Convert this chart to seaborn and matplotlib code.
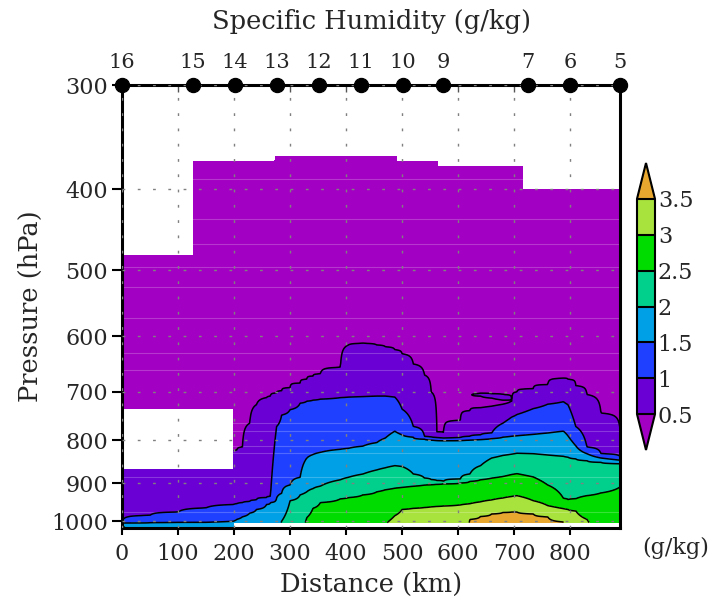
import numpy as np
import matplotlib
matplotlib.use("Agg")
import matplotlib.pyplot as plt
import seaborn as sns
from matplotlib.colors import ListedColormap, BoundaryNorm
from matplotlib.ticker import FixedLocator, NullLocator

# ---------------- data ----------------
levels = [0.5, 1.0, 1.5, 2.0, 2.5, 3.0, 3.5]
level_labels = ["0.5", "1", "1.5", "2", "2.5", "3", "3.5"]

stations = ["16", "15", "14", "13", "12", "11", "10", "9", "7", "6", "5"]
station_km = [0, 127, 202, 277, 352, 427, 502, 573, 725, 800, 889]

x_ticks = [0, 100, 200, 300, 400, 500, 600, 700, 800]
p_ticks = [300, 400, 500, 600, 700, 800, 900, 1000]

nan = np.nan
# sampled distances (km) and pressure (hPa) of each humidity isoline
dist = [0, 50, 100, 150, 199, 205, 215, 228, 240, 258, 265, 276, 285, 300, 318,
        330, 341, 354, 390, 404, 430, 455, 470, 487, 500, 520, 540, 552, 562, 574,
        604, 621, 640, 660, 680, 696, 705, 734, 760, 788, 796, 810, 830, 855, 889]
p05 = [800, 800, 800, 800, 825, 822, 815, 763, 725, 711, 708, 702, 698, 692, 683,
       676, 670, 666, 654, 615, 612, 615, 618, 623, 630, 648, 668, 700, 782, 784,
       757, 737, 731, 728, 724, 718, 700, 694, 686, 674, 676, 688, 705, 742, 775]
p10 = [1000, 984, 975, 964, 955, 953, 950, 947, 943, 937, 934, 770, 746, 735, 722,
       718, 716, 714, 711, 710, 709, 708, 708, 710, 734, 770, 792, 793, 794, 795,
       794, 791, 788, 784, 763, 750, 745, 733, 724, 719, 725, 770, 815, 830, 836]
p15 = [1005, 1004, 1003, 1003, 1000, 995, 988, 978, 968, 955, 950, 938, 926, 905, 886,
       840, 832, 827, 820, 818, 813, 805, 795, 780, 788, 793, 797, 799, 800, 801,
       800, 799, 798, 796, 793, 791, 790, 787, 784, 780, 790, 812, 830, 840, 845]
p20 = [1012, nan, nan, nan, nan, nan, nan, nan, nan, nan, nan, nan, 1000, 945, 930,
       922, 914, 908, 892, 886, 878, 868, 863, 858, 860, 878, 888, 892, 894, 896,
       890, 878, 858, 840, 834, 831, 829, 830, 833, 836, 838, 842, 846, 850, 853]
p25 = [nan, nan, nan, nan, nan, nan, nan, nan, nan, nan, nan, nan, nan, nan, nan,
       990, 965, 950, 940, 937, 930, 922, 917, 913, 911, 908, 905, 904, 903, 902,
       900, 896, 892, 888, 884, 879, 877, 885, 905, 939, 942, 940, 932, 925, 910]
p30 = [nan, nan, nan, nan, nan, nan, nan, nan, nan, nan, nan, nan, nan, nan, nan,
       nan, nan, nan, nan, nan, nan, nan, 1008, 985, 968, 965, 963, 961, 960, 959,
       956, 953, 948, 943, 938, 934, 932, 945, 958, 966, 968, 972, 995, nan, nan]
p35 = [nan, nan, nan, nan, nan, nan, nan, nan, nan, nan, nan, nan, nan, nan, nan,
       nan, nan, nan, nan, nan, nan, nan, nan, nan, nan, nan, nan, nan, nan, nan,
       nan, 995, 987, 980, 976, 975, 975, 980, 988, 1002, nan, nan, nan, nan, nan]

# thin 0.5-1 tongue above a purple pocket near 700 hPa
tongue_km = [640, 660, 680]
tongue_top = [703, 704, 705]
tongue_bot = [708, 712, 716]

# missing-data areas (white)
top_edges = [0, 126, 273, 490, 564, 715, 889]
top_p = [480, 370, 365, 370, 375, 400]
hole_km = [0, 199]
hole_p = [734, 867]
bottom_start_km = 199
bottom_p = 1005

seam_p = [389, 434, 465, 496, 524, 571, 629, 659, 762, 780, 812, 829, 886, 975]

colors = ["#6a00d4", "#2040ff", "#00a0e6", "#00d08c", "#00dc00", "#a8e23c"]
under_color = "#a200c2"
over_color = "#e8a830"

# ---------------- build field ----------------
xf = np.linspace(0, 889, 700)
pf = np.geomspace(295, 1025, 900)
lpf = np.log(pf)
iso = [p05, p10, p15, p20, p25, p30, p35]
ncol = len(dist)
Qcol = np.zeros((ncol, len(pf)))
for i in range(ncol):
    nodes_p = [300.0]
    nodes_q = [0.1]
    if dist[i] in tongue_km:
        k = tongue_km.index(dist[i])
        t, b = tongue_top[k], tongue_bot[k]
        nodes_p += [t, (t + b) / 2, b, (b + p05[i]) / 2]
        nodes_q += [0.5, 0.6, 0.5, 0.4]
    for k, arr in enumerate(iso):
        v = arr[i]
        if np.isnan(v):
            v = 1040 + 10 * k
        nodes_p.append(v)
        nodes_q.append(levels[k])
    nodes_p.append(1200.0)
    nodes_q.append(4.0)
    Qcol[i] = np.interp(lpf, np.log(nodes_p), nodes_q)

Q = np.zeros((len(pf), len(xf)))
for j in range(len(pf)):
    Q[j] = np.interp(xf, dist, Qcol[:, j])

XX, PP = np.meshgrid(xf, pf)
mask = np.zeros_like(Q, dtype=bool)
for k in range(len(top_p)):
    sel = (XX >= top_edges[k]) & (XX <= top_edges[k + 1]) & (PP < top_p[k])
    mask |= sel
mask |= (XX <= hole_km[1]) & (PP > hole_p[0]) & (PP < hole_p[1])
mask |= (XX > bottom_start_km) & (PP > bottom_p)
Qm = np.ma.masked_array(Q, mask=mask)

# ---------------- plot ----------------
sns.set_style("white")
plt.rcParams["font.family"] = ["DejaVu Serif"]

fig = plt.figure(figsize=(7.16, 6.09), dpi=100)
ax = fig.add_axes([122 / 716, 1 - 528 / 609, (620 - 122) / 716, (528 - 85) / 609])

cmap = ListedColormap(colors)
cmap.set_under(under_color)
cmap.set_over(over_color)
norm = BoundaryNorm(levels, cmap.N)

cf = ax.contourf(XX, PP, Qm, levels=levels, cmap=cmap, norm=norm, extend="both", zorder=1)
ax.hlines(seam_p, 0, 889, colors="white", alpha=0.22, linewidth=0.8, zorder=1.5)
ax.contour(XX, PP, Qm, levels=levels, colors="black", linewidths=1.1, zorder=2)

ax.set_yscale("log")
ax.set_xlim(0, 889)
ax.set_ylim(1019, 300)
ax.yaxis.set_major_locator(FixedLocator(p_ticks))
ax.yaxis.set_minor_locator(NullLocator())
ax.set_yticklabels([str(p) for p in p_ticks])
ax.set_xticks(x_ticks)
ax.set_xticklabels([str(x) for x in x_ticks])

ax.set_axisbelow(False)
ax.grid(True, which="major", color="#808080", linestyle=(0, (2, 9)), linewidth=1.0)

for s in ax.spines.values():
    s.set_linewidth(2.2)
    s.set_color("black")
ax.tick_params(axis="both", which="major", labelsize=16, width=1.5, color="black")
ax.tick_params(axis="y", direction="out", length=7, pad=3, left=True)
ax.tick_params(axis="x", direction="out", length=5, pad=6, bottom=True, top=False)

# small inward ticks under the top station line
top_ax = ax.secondary_xaxis("top")
top_ax.set_xticks(x_ticks)
top_ax.set_xticklabels([])
top_ax.tick_params(direction="in", length=5, width=1.0, color="#555555")
top_ax.spines["top"].set_visible(False)

# top station axis
sns.scatterplot(x=station_km, y=[300] * len(station_km), ax=ax, color="black",
                s=105, edgecolor="black", clip_on=False, zorder=10, legend=False)
for lab, km in zip(stations, station_km):
    ax.annotate(lab, (km, 300), xytext=(0, 9), textcoords="offset points",
                ha="center", va="bottom", fontsize=15, annotation_clip=False)
ax.set_xlim(0, 889)
ax.set_ylim(1019, 300)
ax.set_xlabel("")
ax.set_ylabel("")

fig.text(371 / 716, 1 - 21 / 609, "Specific Humidity (g/kg)", ha="center", va="center", fontsize=18.5)
fig.text(371 / 716, 1 - 584 / 609, "Distance (km)", ha="center", va="center", fontsize=18.5)
fig.text(30 / 716, 1 - 306 / 609, "Pressure (hPa)", ha="center", va="center", fontsize=18.5, rotation=90)
fig.text(676 / 716, 1 - 548 / 609, "(g/kg)", ha="center", va="center", fontsize=16)

cax = fig.add_axes([637 / 716, 1 - 450 / 609, 18 / 716, 287 / 609])
cb = fig.colorbar(cf, cax=cax, ticks=levels, drawedges=True, extendfrac="auto")
cb.ax.set_yticklabels(level_labels)
cb.ax.tick_params(length=0, labelsize=16, pad=2)
cb.outline.set_linewidth(1.5)
cb.outline.set_edgecolor("black")
cb.dividers.set_linewidth(1.5)
cb.dividers.set_color("black")

fig.savefig("out.png", dpi=100)
